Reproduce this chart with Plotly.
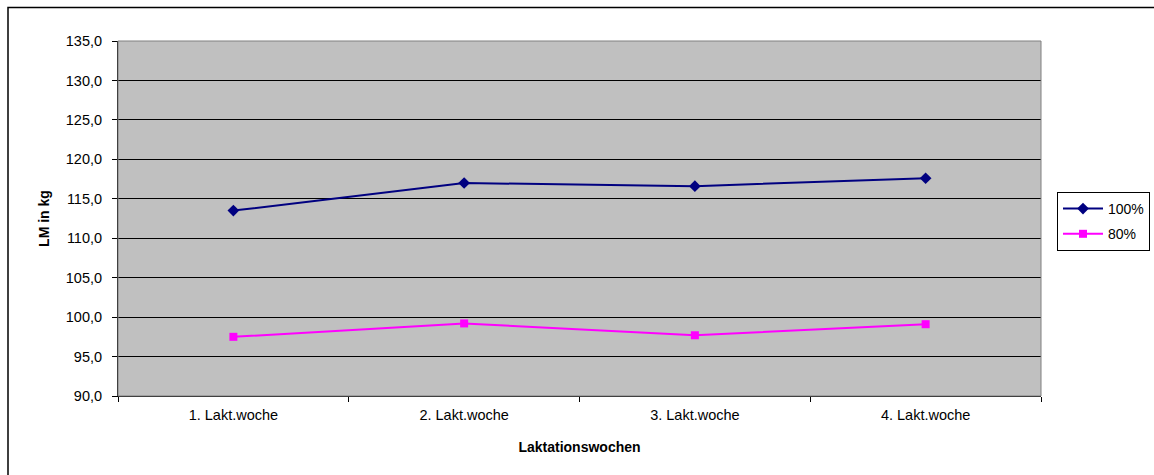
import plotly.graph_objects as go

categories = ["1. Lakt.woche", "2. Lakt.woche", "3. Lakt.woche", "4. Lakt.woche"]
series_100 = [113.5, 117.0, 116.6, 117.6]
series_80 = [97.5, 99.2, 97.7, 99.1]
y_ticks = [90, 95, 100, 105, 110, 115, 120, 125, 130, 135]
y_tick_labels = ["90,0", "95,0", "100,0", "105,0", "110,0", "115,0", "120,0", "125,0", "130,0", "135,0"]

W, H = 1154, 475
L, R, T, B = 118, 1041, 41, 396

fig = go.Figure()
fig.add_trace(go.Scatter(
    x=categories, y=series_100, name="100%", mode="lines+markers",
    legendgroup="a",
    line=dict(color="#000080", width=2),
    marker=dict(symbol="diamond", size=9, color="#000080"),
))
fig.add_trace(go.Scatter(
    x=categories, y=series_80, name="80%", mode="lines+markers",
    legendgroup="b",
    line=dict(color="#FF00FF", width=2),
    marker=dict(symbol="square", size=8, color="#FF00FF"),
))

font = "Liberation Sans, Arial, sans-serif"
pw = R - L
ph = B - T

def px(x):
    return (x - L) / pw

def py(y):
    return (B - y) / ph

fig.update_layout(
    width=W, height=H,
    margin=dict(l=L, r=W - R, t=T, b=H - B, pad=0, autoexpand=False),
    paper_bgcolor="white",
    plot_bgcolor="#C0C0C0",
    font=dict(family=font, size=14, color="black"),
    showlegend=True,
    legend=dict(
        x=px(1057), y=py(192), xanchor="left", yanchor="top",
        bgcolor="white", bordercolor="black", borderwidth=1,
        font=dict(family=font, size=14, color="black"),
        itemwidth=40, tracegroupgap=4,
    ),
    xaxis=dict(
        type="category", range=[-0.5, 3.5],
        showgrid=False, zeroline=False,
        showline=True, linecolor="black", linewidth=1,
        ticks="outside", ticklen=5, tickcolor="black", tickson="boundaries",
        ticklabelstandoff=6,
        tickfont=dict(family=font, size=14.5),
        title=dict(text="<b>Laktationswochen</b>", font=dict(family=font, size=14), standoff=19),
    ),
    yaxis=dict(
        range=[90, 135], tickvals=y_ticks, ticktext=y_tick_labels,
        showgrid=True, gridcolor="#000000", gridwidth=1,
        zeroline=False,
        showline=True, linecolor="black", linewidth=1,
        ticks="outside", ticklen=5, tickcolor="black",
        ticklabelstandoff=7,
        tickfont=dict(family=font, size=14.5),
        title=dict(text="<b>LM in kg</b>", font=dict(family=font, size=14), standoff=12),
    ),
    shapes=[
        dict(type="rect", xref="paper", yref="paper", x0=0, x1=1, y0=0, y1=1,
             line=dict(color="#808080", width=1), layer="above"),
        dict(type="rect", xref="paper", yref="paper",
             x0=px(8), x1=px(1170), y0=py(490), y1=py(7.5),
             line=dict(color="black", width=1.5)),
    ],
)

fig.write_html("out.html", config={"displayModeBar": False},
               post_script="document.body.style.margin='0';")
